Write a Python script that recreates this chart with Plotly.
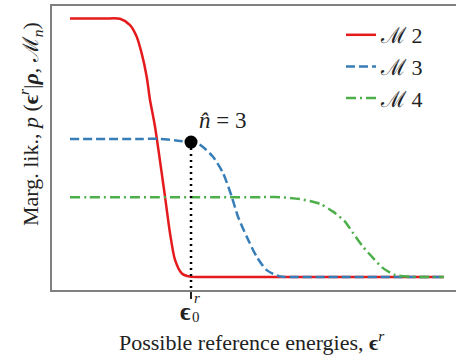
import plotly.graph_objects as go

# ---- data (abstract units) ----
red_x = [0.446, 1.300, 1.683, 1.931, 2.097, 2.220, 2.344, 2.426, 2.550, 2.797, 2.921, 3.045, 3.210, 3.416, 3.800, 9.300, 9.703]
red_y = [0.956, 0.956, 0.955, 0.933, 0.892, 0.833, 0.751, 0.669, 0.575, 0.329, 0.200, 0.106, 0.059, 0.047, 0.046, 0.046, 0.046]

blue_x = [0.446, 2.200, 2.673, 3.168, 3.441, 3.663, 3.985, 4.233, 4.448, 4.604, 4.819, 5.067, 5.314, 5.644, 6.100, 9.300, 9.703]
blue_y = [0.532, 0.532, 0.532, 0.525, 0.521, 0.511, 0.469, 0.412, 0.329, 0.258, 0.188, 0.117, 0.070, 0.048, 0.046, 0.046, 0.046]

green_x = [0.446, 0.900, 5.200, 5.644, 6.139, 6.634, 6.955, 7.252, 7.450, 7.698, 7.946, 8.193, 8.490, 8.861, 9.300, 9.703]
green_y = [0.327, 0.327, 0.327, 0.327, 0.320, 0.303, 0.276, 0.241, 0.201, 0.152, 0.113, 0.077, 0.053, 0.047, 0.046, 0.046]

series_names = ["ℳ 2", "ℳ 3", "ℳ 4"]
nhat_x = [3.441]
nhat_y = [0.521]
nhat_label = "<i>n̂</i> = 3"

W, H = 456, 356
L, R, T, B = 52, 0, 6, 66
PW, PH = W - L - R, H - T - B

def px(x):
    return (x - L) / PW

def py(y):
    return (H - B - y) / PH

FONT = "Liberation Serif"

fig = go.Figure()
fig.add_trace(go.Scatter(x=red_x, y=red_y, mode="lines", name=series_names[0],
                         line=dict(color="#e41a1c", width=2.5, shape="spline", smoothing=0.7)))
fig.add_trace(go.Scatter(x=blue_x, y=blue_y, mode="lines", name=series_names[1],
                         line=dict(color="#377eb8", width=2.5, dash="9px,4px", shape="spline", smoothing=0.7)))
fig.add_trace(go.Scatter(x=green_x, y=green_y, mode="lines", name=series_names[2],
                         line=dict(color="#4daf4a", width=2.5, dash="10px,4px,2px,4px", shape="spline", smoothing=0.7)))
# dotted drop line
fig.add_trace(go.Scatter(x=[nhat_x[0], nhat_x[0]], y=[nhat_y[0], 0], mode="lines", showlegend=False,
                         line=dict(color="black", width=2.5, dash="2px,4px"), cliponaxis=False))
fig.add_trace(go.Scatter(x=nhat_x, y=nhat_y, mode="markers", showlegend=False,
                         marker=dict(color="black", size=13), cliponaxis=False))

fig.update_layout(
    width=W, height=H,
    margin=dict(l=L, r=R, t=T, b=B),
    plot_bgcolor="white", paper_bgcolor="white",
    font=dict(family=FONT, size=22, color="#222"),
    showlegend=True,
    legend=dict(x=px(341), y=py(14), xanchor="left", yanchor="top",
                bgcolor="rgba(0,0,0,0)", font=dict(size=22, family=FONT),
                tracegroupgap=0),
)
fig.update_xaxes(range=[0, 10], showgrid=False, zeroline=False, showline=True, mirror=True,
                 linecolor="#808080", linewidth=1.5,
                 tickvals=nhat_x, ticktext=[""], ticks="outside", ticklen=7, tickwidth=1.5,
                 tickcolor="#222")
fig.update_yaxes(range=[0, 1], showgrid=False, zeroline=False, showline=True, mirror=False,
                 linecolor="#808080", linewidth=1.5, showticklabels=False, ticks="")

ann = []
ann.append(dict(x=nhat_x[0], y=nhat_y[0], xref="x", yref="y", text=nhat_label, showarrow=False,
                xanchor="left", yanchor="bottom", xshift=6, yshift=7, font=dict(size=23, family=FONT)))
# tick label epsilon_0^r
ann.append(dict(x=px(185), y=py(311), xref="paper", yref="paper", text="<b>ϵ</b>", showarrow=False,
                xanchor="center", yanchor="middle", font=dict(size=25, family=FONT)))
ann.append(dict(x=px(197), y=py(298), xref="paper", yref="paper", text="<i>r</i>", showarrow=False,
                xanchor="center", yanchor="middle", font=dict(size=15, family=FONT)))
ann.append(dict(x=px(196), y=py(317), xref="paper", yref="paper", text="0", showarrow=False,
                xanchor="center", yanchor="middle", font=dict(size=15, family=FONT)))
# axis titles
ann.append(dict(x=px(252), y=py(341), xref="paper", yref="paper",
                text="Possible reference energies, <b>ϵ</b><sup><i>r</i></sup>", showarrow=False,
                xanchor="center", yanchor="middle", font=dict(size=22, family=FONT)))
ann.append(dict(x=px(30), y=py(124), xref="paper", yref="paper", textangle=-90,
                text="Marg. lik., <i>p</i> (<b>ϵ</b><sup><i>r</i></sup>|<b><i>ρ</i></b>, ℳ<sub><i>n</i></sub>)",
                showarrow=False, xanchor="center", yanchor="middle", font=dict(size=22, family=FONT)))
fig.update_layout(annotations=ann)

fig.write_html("out.html")
